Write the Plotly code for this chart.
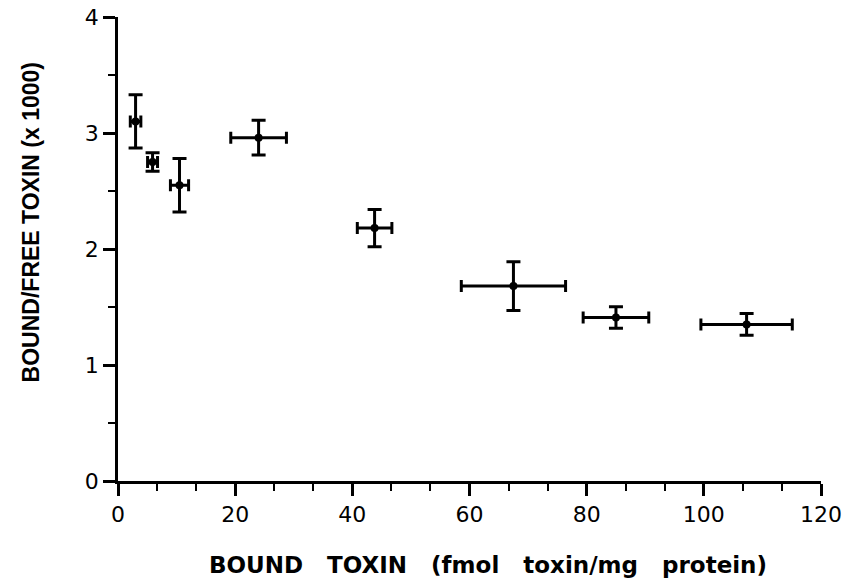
import plotly.graph_objects as go

bound = [3.0, 5.9, 10.5, 24.0, 43.8, 67.5, 85.0, 107.3]
ratio = [3.10, 2.75, 2.55, 2.96, 2.18, 1.68, 1.41, 1.35]
x_err = [0.9, 0.85, 1.55, 4.75, 2.95, 8.9, 5.6, 7.8]
y_err = [0.23, 0.08, 0.23, 0.15, 0.16, 0.21, 0.093, 0.093]

x_ticks = [0, 20, 40, 60, 80, 100, 120]
y_ticks = [0, 1, 2, 3, 4]

sp = "\u00a0\u00a0\u00a0"
x_title = "BOUND" + sp + "TOXIN" + sp + "(fmol" + sp + "toxin/mg" + sp + "protein)"
y_title = "BOUND/FREE TOXIN (x 1000)"

fig = go.Figure()
fig.add_trace(go.Scatter(
    x=bound, y=ratio, mode="markers",
    marker=dict(color="black", size=8),
    error_x=dict(type="data", array=x_err, visible=True, color="black", thickness=3, width=6),
    error_y=dict(type="data", array=y_err, visible=True, color="black", thickness=3, width=7),
    showlegend=False,
))

tick_font = dict(family="DejaVu Sans, sans-serif", size=22, color="black")
fig.update_layout(
    width=848, height=586,
    margin=dict(l=118, r=27, t=17, b=105, autoexpand=False),
    plot_bgcolor="white", paper_bgcolor="white",
    font=dict(family="Liberation Sans, Arial, sans-serif", color="black", size=18),
)
fig.update_xaxes(
    range=[0, 120], tickvals=x_ticks, automargin=False,
    showgrid=False, zeroline=False,
    showline=True, linecolor="black", linewidth=2.5,
    ticks="outside", ticklen=12, tickwidth=2.5, tickcolor="black",
    tickfont=tick_font,
    minor=dict(dtick=20/3, tick0=0, ticks="outside", ticklen=7, tickwidth=2, tickcolor="black"),
)
fig.update_yaxes(
    range=[0, 4], tickvals=y_ticks, automargin=False,
    showgrid=False, zeroline=False,
    showline=True, linecolor="black", linewidth=2.5,
    ticks="outside", ticklen=12, tickwidth=2.5, tickcolor="black",
    tickfont=tick_font,
    minor=dict(dtick=0.5, tick0=0, ticks="outside", ticklen=7, tickwidth=2, tickcolor="black"),
)
fig.add_annotation(
    text="<b>" + x_title + "</b>", xref="paper", yref="paper",
    x=0.526, y=-0.18, xanchor="center", yanchor="middle", showarrow=False,
    font=dict(family="DejaVu Sans, sans-serif", size=23, color="black"),
)
fig.add_annotation(
    text="<b>" + y_title + "</b>", xref="paper", yref="paper",
    x=-0.124, y=0.557, xanchor="center", yanchor="middle", showarrow=False,
    textangle=-90,
    font=dict(family="Liberation Sans, Arial, sans-serif", size=23, color="black"),
)

fig.write_html("out.html")
